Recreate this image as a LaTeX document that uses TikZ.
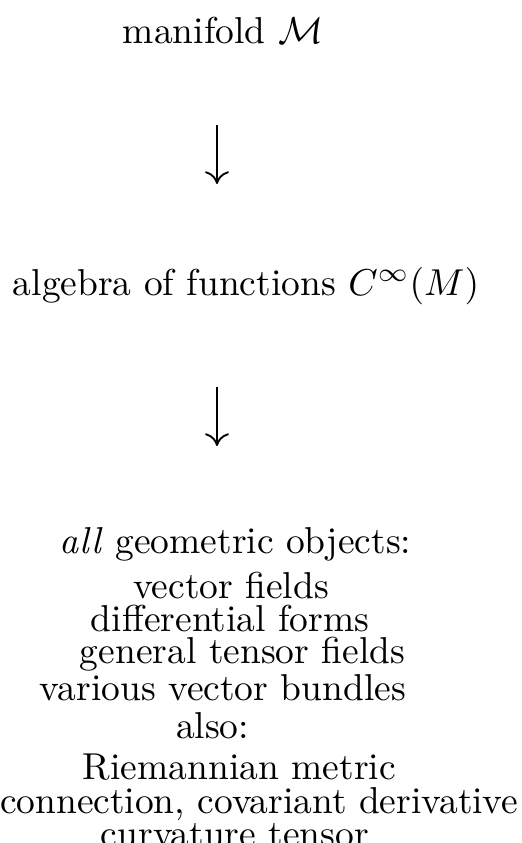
\documentclass[tikz,border=0pt]{standalone}
\usetikzlibrary{arrows.meta}
\begin{document}
\begin{tikzpicture}[x=0.267pt,y=-0.267pt,
  txt/.style={inner sep=0pt,outer sep=0pt,anchor=base west},
  maparrow/.style={line width=0.5pt,-{Computer Modern Rightarrow[length=3.4pt,width=6.4pt]}}]
\useasboundingbox (0,0) rectangle (521,843);
\node[txt] (man) at (123,43) {manifold $\mathcal{M}$};
\node[txt] (alg) at (13,295) {algebra of functions $C^\infty(M)$};
\node[txt] (all) at (60,553) {\textit{all} geometric objects:};
\node[txt] (vf)  at (133,598) {vector fields};
\node[txt] (df)  at (91,631) {differential forms};
\node[txt] (gt)  at (80,663) {general tensor fields};
\node[txt] (vb)  at (40,700) {various vector bundles};
\node[txt] (also) at (176,738) {also:};
\node[txt] (rm)  at (83,779) {Riemannian metric};
\node[txt] (cn)  at (0,813) {connection, covariant derivative};
\node[txt] (ct)  at (101,846) {curvature tensor};
\coordinate (a1s) at (217,125);
\coordinate (a1e) at (217,184);
\coordinate (a2s) at (217,387);
\coordinate (a2e) at (217,446);
\draw[maparrow] (a1s) -- (a1e);
\draw[maparrow] (a2s) -- (a2e);
\end{tikzpicture}
\end{document}
